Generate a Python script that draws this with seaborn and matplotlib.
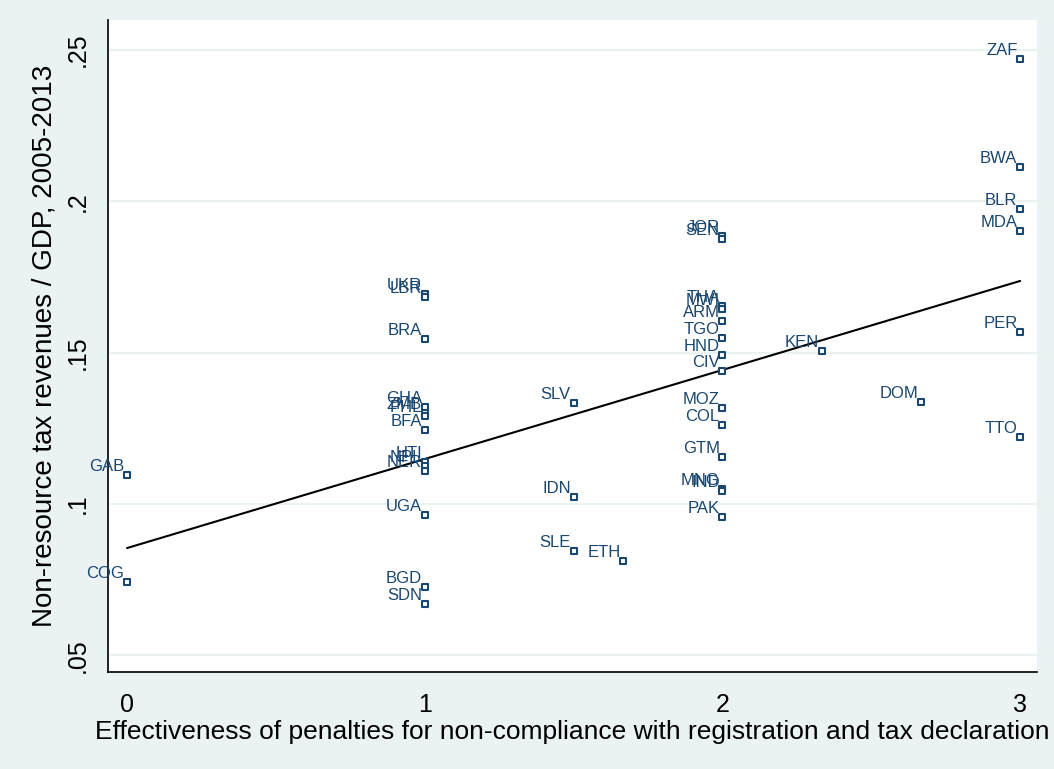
import matplotlib
matplotlib.use("Agg")
import matplotlib.pyplot as plt
import seaborn as sns
import pandas as pd
from matplotlib import font_manager

# Country codes, penalty-effectiveness scores and non-resource tax revenue / GDP
countries = ["ZAF", "BWA", "BLR", "MDA", "PER", "TTO", "DOM", "KEN",
             "JOR", "SEN", "THA", "MWI", "ARM", "TGO", "HND", "CIV",
             "MOZ", "COL", "GTM", "MNG", "IND", "PAK",
             "SLV", "IDN", "SLE", "ETH",
             "UKR", "LBR", "BRA", "GHA", "ZMB", "PHL", "BFA",
             "HTI", "NPL", "NER", "UGA", "BGD", "SDN",
             "GAB", "COG"]
penalties = [3, 3, 3, 3, 3, 3, 2.667, 2.333,
             2, 2, 2, 2, 2, 2, 2, 2,
             2, 2, 2, 2, 2, 2,
             1.5, 1.5, 1.5, 1.667,
             1, 1, 1, 1, 1, 1, 1,
             1, 1, 1, 1, 1, 1,
             0, 0]
tax_gdp = [0.247, 0.2113, 0.1974, 0.1902, 0.1568, 0.1220, 0.1336, 0.1505,
           0.1885, 0.1875, 0.1654, 0.1644, 0.1604, 0.1548, 0.1492, 0.1439,
           0.1317, 0.1260, 0.1155, 0.1049, 0.1042, 0.0956,
           0.1333, 0.1022, 0.0844, 0.0811,
           0.1693, 0.1683, 0.1545, 0.1320, 0.1300, 0.1290, 0.1244,
           0.1138, 0.1125, 0.1110, 0.0963, 0.0725, 0.0669,
           0.1095, 0.0741]

x_ticks = [0, 1, 2, 3]
y_ticks = [0.05, 0.10, 0.15, 0.20, 0.25]
y_tick_labels = [".05", ".1", ".15", ".2", ".25"]

x_title = "Effectiveness of penalties for non-compliance with registration and tax declaration"
y_title = "Non-resource tax revenues / GDP, 2005-2013"

df = pd.DataFrame({"country": countries, "penalty": penalties, "tax": tax_gdp})

sns.set_style("white")
available = {f.name for f in font_manager.fontManager.ttflist}
families = [f for f in ["Liberation Sans Narrow", "Liberation Sans", "DejaVu Sans"] if f in available]
plt.rcParams["font.family"] = families
plt.rcParams["text.color"] = "black"
plt.rcParams["axes.labelcolor"] = "black"
plt.rcParams["xtick.color"] = "black"
plt.rcParams["ytick.color"] = "black"

bg = "#EAF2F3"
navy = "#1a476f"

fig = plt.figure(figsize=(10.54, 7.69), dpi=100, facecolor=bg)
ax = fig.add_axes([0.1025, 0.126, 0.8815, 0.848])
ax.set_facecolor("white")

# horizontal grid at the y ticks
for yv in y_ticks:
    ax.axhline(yv, color=bg, lw=1.6, zorder=0)

sns.scatterplot(data=df, x="penalty", y="tax", ax=ax, marker="s", s=18,
                facecolor="white", edgecolor=navy, linewidth=1.5, zorder=3,
                legend=False)

sns.regplot(data=df, x="penalty", y="tax", ax=ax, scatter=False, ci=None,
            truncate=True, line_kws={"color": "black", "lw": 1.5, "zorder": 2})

for c, xv, yv in zip(countries, penalties, tax_gdp):
    ax.annotate(c, (xv, yv), xytext=(-2, 6), textcoords="offset points",
                ha="right", va="center", fontsize=12, color=navy, zorder=4)

ax.set_xlim(-0.064, 3.057)
ax.set_ylim(0.0444, 0.2599)
ax.set_xticks(x_ticks)
ax.set_xticklabels([str(t) for t in x_ticks])
ax.set_yticks(y_ticks)
ax.set_yticklabels(y_tick_labels, rotation=90, va="center")
ax.tick_params(axis="both", direction="out", length=8, width=1, color="black",
               labelcolor="black", labelsize=18, pad=5)
ax.tick_params(axis="x", pad=7)

for side in ["top", "right"]:
    ax.spines[side].set_visible(False)
for side in ["left", "bottom"]:
    ax.spines[side].set_color("black")
    ax.spines[side].set_linewidth(1.2)

ax.set_xlabel(x_title, fontsize=19, labelpad=2, color="black")
ax.set_ylabel(y_title, fontsize=20, labelpad=6, color="black")

fig.savefig("out.png", dpi=100, facecolor=bg)
